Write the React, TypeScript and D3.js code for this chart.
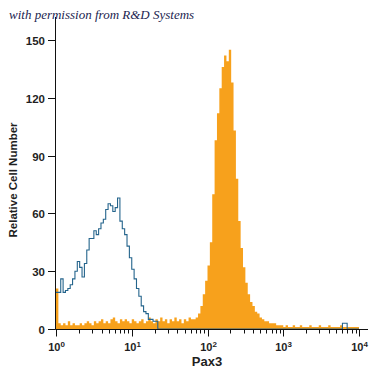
/**
 * Pax3 flow cytometry histogram - isotype outline vs. stained (filled) population
 */
import { useEffect, useRef } from 'react';
import * as d3 from 'd3';

const WIDTH = 375;
const HEIGHT = 375;

const COLORS = {
  stained: '#f7a11c',
  isotype: '#24648c',
  axis: '#111111',
  text: '#1f1f1f',
  credit: '#1b2550',
};

// 32 channels per decade, 10^0 .. 10^4
const BINS_PER_DECADE = 32;

// Stained sample (filled orange)
const stainedCounts = [
  21, 3, 2, 3, 2, 4, 2, 3, 2, 2, 3, 2, 3, 4, 3, 2,
  4, 3, 4, 5, 3, 4, 3, 5, 6, 4, 3, 5, 4, 5, 4, 3,
  5, 4, 3, 4, 5, 3, 4, 6, 4, 3, 5, 4, 6, 4, 5, 3,
  5, 4, 6, 4, 5, 3, 5, 4, 6, 5, 5, 6, 8, 12, 18, 25,
  33, 45, 70, 98, 112, 125, 136, 142, 139, 145, 128, 103, 78, 56, 42, 32,
  24, 18, 14, 12, 9, 8, 6, 5, 4, 4, 3, 3, 3, 2, 2, 2,
  1, 2, 1, 1, 2, 1, 1, 2, 1, 1, 1, 2, 1, 1, 1, 2,
  1, 1, 1, 2, 1, 1, 1, 1, 2, 1, 1, 1, 1, 1, 1, 1,
];

// Isotype control (blue outline)
const isotypeCounts = [
  19, 19, 26, 19, 20, 21, 23, 26, 30, 35, 32, 27, 34, 41, 47, 47,
  51, 49, 52, 55, 57, 62, 65, 64, 61, 63, 68, 56, 52, 49, 43, 37,
  31, 26, 21, 17, 12, 9, 8, 5, 5, 4, 4, 0, 0, 0, 0, 0,
  0, 0, 0, 0, 0, 0, 0, 0, 0, 0, 0, 0, 0, 0, 0, 0,
  0, 0, 0, 0, 0, 0, 0, 0, 0, 0, 0, 0, 0, 0, 0, 0,
  0, 0, 0, 0, 0, 0, 0, 0, 0, 0, 0, 0, 0, 0, 0, 0,
  0, 0, 0, 0, 0, 0, 0, 0, 0, 0, 0, 0, 0, 0, 0, 0,
  0, 0, 0, 0, 0, 0, 0, 0, 0, 3, 3, 0, 0, 0, 0, 0,
];

const yTicks = [0, 30, 60, 90, 120, 150];
const xDecades = [0, 1, 2, 3, 4];
const minorSteps = [2, 3, 4, 5, 6, 7, 8, 9];

type BinPoint = { x0: number; v: number };

function toSteps(counts: number[]): BinPoint[] {
  const pts = counts.map((v, i) => ({ x0: Math.pow(10, i / BINS_PER_DECADE), v }));
  // close the last bin at its right edge
  pts.push({ x0: Math.pow(10, counts.length / BINS_PER_DECADE), v: counts[counts.length - 1] });
  return pts;
}

function Pax3Histogram() {
  const svgRef = useRef<SVGSVGElement>(null);

  useEffect(() => {
    if (!svgRef.current) return;
    const svg = d3.select(svgRef.current);
    svg.selectAll('*').remove();

    const x = d3.scaleLog().domain([1, 1e4]).range([56, 359]);
    const y = d3.scaleLinear().domain([0, 150]).range([329, 40]);

    // Stained population
    const area = d3.area<BinPoint>()
      .curve(d3.curveStepAfter)
      .x((d) => x(d.x0))
      .y0(y(0))
      .y1((d) => y(d.v));

    svg.append('path')
      .attr('d', area(toSteps(stainedCounts)) as string)
      .attr('fill', COLORS.stained);

    // Isotype outline
    const line = d3.line<BinPoint>()
      .curve(d3.curveStepAfter)
      .x((d) => x(d.x0))
      .y((d) => y(d.v));

    svg.append('path')
      .attr('d', line(toSteps(isotypeCounts)) as string)
      .attr('fill', 'none')
      .attr('stroke', COLORS.isotype)
      .attr('stroke-width', 1.1);

    // Axes
    const x0 = 55.5;
    const yBase = 329.5;
    svg.append('line')
      .attr('x1', x0).attr('x2', x0)
      .attr('y1', 17).attr('y2', yBase)
      .attr('stroke', COLORS.axis).attr('stroke-width', 1);
    svg.append('line')
      .attr('x1', x0).attr('x2', 368)
      .attr('y1', yBase).attr('y2', yBase)
      .attr('stroke', COLORS.axis).attr('stroke-width', 1);

    // Y ticks
    yTicks.forEach((t) => {
      const ty = Math.round(y(t)) + 0.5;
      svg.append('line')
        .attr('x1', 48).attr('x2', x0)
        .attr('y1', ty).attr('y2', ty)
        .attr('stroke', COLORS.axis);
      svg.append('text')
        .attr('x', 45)
        .attr('y', ty + 4)
        .attr('text-anchor', 'end')
        .attr('font-family', 'Liberation Sans, Arial, sans-serif')
        .attr('font-weight', 'bold')
        .attr('font-size', '11.5px')
        .attr('fill', COLORS.text)
        .text(String(t));
    });

    // X ticks, major + minor
    xDecades.forEach((d) => {
      const tx = Math.round(x(Math.pow(10, d))) + 0.5;
      svg.append('line')
        .attr('x1', tx).attr('x2', tx)
        .attr('y1', yBase).attr('y2', yBase + 7)
        .attr('stroke', COLORS.axis);
      const label = svg.append('text')
        .attr('x', tx)
        .attr('y', 351)
        .attr('text-anchor', 'middle')
        .attr('font-family', 'Liberation Sans, Arial, sans-serif')
        .attr('font-weight', 'bold')
        .attr('font-size', '11px')
        .attr('fill', COLORS.text);
      label.append('tspan').text('10');
      label.append('tspan').attr('dy', -4).attr('font-size', '8px').text(String(d));
      if (d < 4) {
        minorSteps.forEach((m) => {
          const mx = Math.round(x(m * Math.pow(10, d))) + 0.5;
          svg.append('line')
            .attr('x1', mx).attr('x2', mx)
            .attr('y1', yBase).attr('y2', yBase + 4)
            .attr('stroke', COLORS.axis);
        });
      }
    });

    // Axis titles
    svg.append('text')
      .attr('x', 207)
      .attr('y', 366)
      .attr('text-anchor', 'middle')
      .attr('font-family', 'Liberation Sans, Arial, sans-serif')
      .attr('font-weight', 'bold')
      .attr('font-size', '13px')
      .attr('fill', COLORS.text)
      .text('Pax3');

    svg.append('text')
      .attr('transform', 'translate(17,180) rotate(-90)')
      .attr('text-anchor', 'middle')
      .attr('font-family', 'Liberation Sans, Arial, sans-serif')
      .attr('font-weight', 'bold')
      .attr('font-size', '11.5px')
      .attr('fill', COLORS.text)
      .text('Relative Cell Number');

    // Credit line
    svg.append('text')
      .attr('x', 9)
      .attr('y', 19)
      .attr('font-family', 'Liberation Serif, DejaVu Serif, serif')
      .attr('font-style', 'italic')
      .attr('font-size', '13px')
      .attr('fill', COLORS.credit)
      .text('with permission from R&D Systems');
  }, []);

  return (
    <svg
      ref={svgRef}
      width={WIDTH}
      height={HEIGHT}
      style={{ position: 'absolute', left: 0, top: 0, background: '#fff' }}
      role="img"
      aria-label="Pax3 flow cytometry histogram"
    />
  );
}

export default function App() {
  return <Pax3Histogram />;
}
